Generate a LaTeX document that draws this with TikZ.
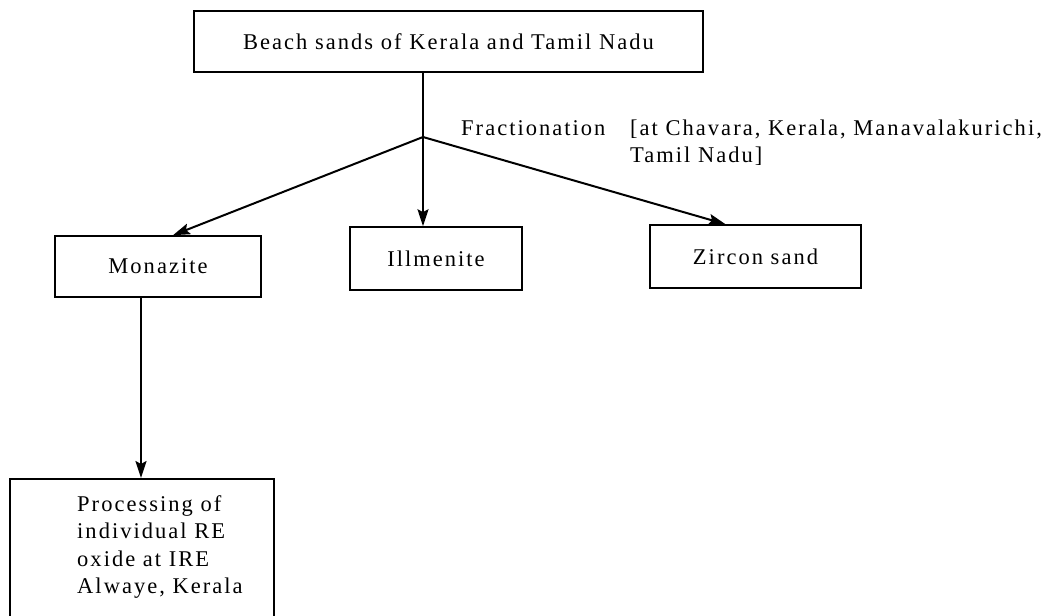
\documentclass[tikz,border=0pt]{standalone}
\usepackage{fontspec}
\setmainfont{Liberation Serif}[LetterSpace=9]
\usetikzlibrary{arrows.meta, calc}
\tikzset{>={Stealth[length=17pt, width=11pt, inset=3pt]},
  flow box/.style={draw, line width=1.6pt, inner sep=0pt},
  flow line/.style={line width=2pt},
  flow text/.style={inner sep=0pt, font=\fontsize{22.5}{27.5}\selectfont}
}

\begin{document}
\begin{tikzpicture}[x=1pt, y=-1pt]
\useasboundingbox (0,0) rectangle (1045,616);
\clip (0,0) rectangle (1045,616);

% Boxes
\node[flow box, flow text, minimum width=509pt, minimum height=61pt] (beach) at (448.5,41.5) {Beach sands of Kerala and Tamil Nadu};
\node[flow box, flow text, minimum width=206pt, minimum height=61pt] (monazite) at (158,266.5) {Monazite};
\node[flow box, flow text, minimum width=172pt, minimum height=63pt] (illmenite) at (436,258.5) {Illmenite};
\node[flow box, flow text, minimum width=211pt, minimum height=63pt] (zircon) at (755.5,256.5) {Zircon sand};
\node[flow box, anchor=north west, minimum width=264pt, minimum height=170pt] (process) at (9,478) {};
\node[flow text, align=left, anchor=north west] (process text) at (77,495) {Processing of\\individual RE\\oxide at IRE\\Alwaye, Kerala};

% Labels
\node[flow text, anchor=base west] (fraction) at (461,135) {Fractionation};
\node[flow text, anchor=base west] (place) at (630,135) {[at Chavara, Kerala, Manavalakurichi,};
\node[flow text, anchor=base west] (place2) at (630,162.5) {Tamil Nadu]};

% Connectors
\coordinate (split) at (423,137);
\coordinate (mona in) at ($(monazite.north)+(15,0)$);
\coordinate (zirc in) at ($(zircon.north)+(-30,0)$);
\coordinate (mona out) at ($(monazite.south)+(-17,0)$);
\draw[flow line] (beach.south -| split) -- (split);
\draw[flow line, ->] (split) -- (illmenite.north -| split);
\draw[flow line, ->] (split) -- (mona in);
\draw[flow line, ->] (split) -- (zirc in);
\draw[flow line, ->] (mona out) -- (mona out |- process.north);

\end{tikzpicture}
\end{document}
